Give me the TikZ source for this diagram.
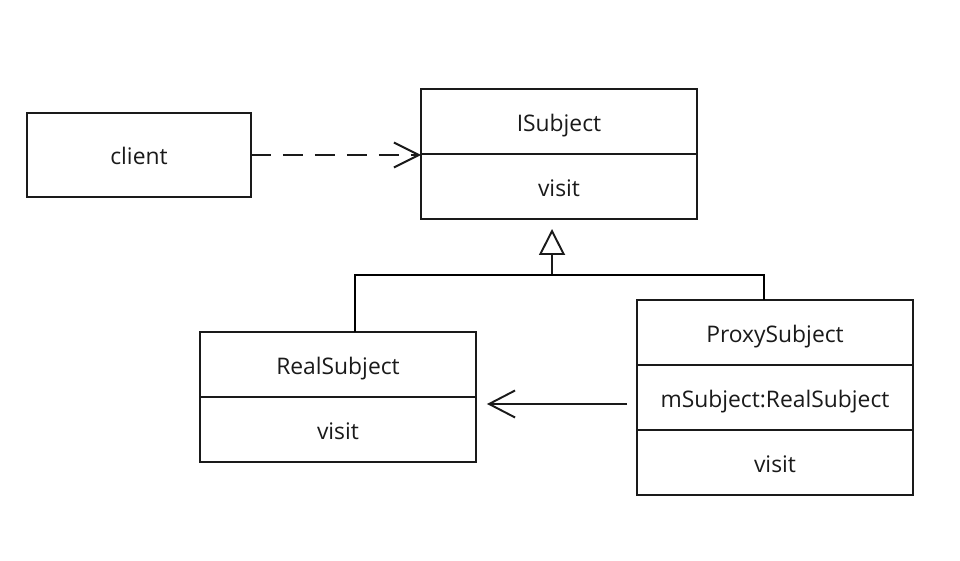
\documentclass[tikz,border=0pt]{standalone}
\usepackage{fontspec}
\setmainfont{Open Sans}
\usepackage{tikz}
\usetikzlibrary{arrows.meta,positioning}
\definecolor{UmlInk}{HTML}{1A1A1A}
\tikzset{
  diagram/.style={font=\fontsize{13}{16}\selectfont,text=UmlInk,line width=1.1pt},
  compart/.style={draw=UmlInk,line width=1.1pt,outer sep=0pt,minimum width=5.52cm,minimum height=1.3cm,inner sep=0pt,text height=11pt,text depth=0pt},
  plainbox/.style={draw=UmlInk,line width=1.1pt,outer sep=0pt,minimum width=4.48cm,minimum height=1.68cm,inner sep=0pt,text height=11pt,text depth=0pt},
  depend/.style={draw=UmlInk,dash pattern=on 0.4cm off 0.24cm,-{Straight Barb[length=0.5cm,width=0.5cm]}},
  inherit/.style={draw=UmlInk,-{Triangle[open,length=0.52cm,width=0.52cm,fill=white]}},
  assoc/.style={draw=UmlInk,-{Straight Barb[length=0.52cm,width=0.54cm]}},
}

\begin{document}
\begin{tikzpicture}[diagram,x=0.02cm,y=-0.02cm]
  \useasboundingbox (0,0) rectangle (960,561);

  % classes
  \node[plainbox] (client) at (139,155) {client};

  \node[compart] (isubject) at (559,121.5) {ISubject};
  \node[compart,below=0pt of isubject] (isubjectops) {visit};

  \node[compart] (realsubject) at (338,364.5) {RealSubject};
  \node[compart,below=0pt of realsubject] (realsubjectops) {visit};

  \node[compart] (proxysubject) at (775,332.5) {ProxySubject};
  \node[compart,below=0pt of proxysubject] (proxyfield) {mSubject:RealSubject};
  \node[compart,below=0pt of proxyfield] (proxyops) {visit};

  % client uses ISubject
  \draw[depend] (client.east) -- (client.east -| isubject.west);

  % generalisation
  \coordinate (fork) at (552,275);
  \coordinate (forktip) at ([xshift=-0.14cm,yshift=-0.2cm]isubjectops.south);
  \draw[inherit] (fork) -- (forktip);
  \draw ([xshift=0.34cm]realsubject.north) |- (fork) -| ([xshift=-0.22cm]proxysubject.north);

  % proxy holds the real subject
  \coordinate (proxytail) at ([xshift=-0.2cm,yshift=-0.13cm]proxyfield.west);
  \draw[assoc,shorten >=0.22cm] (proxytail) -- (proxytail -| realsubject.east);
\end{tikzpicture}
\end{document}
